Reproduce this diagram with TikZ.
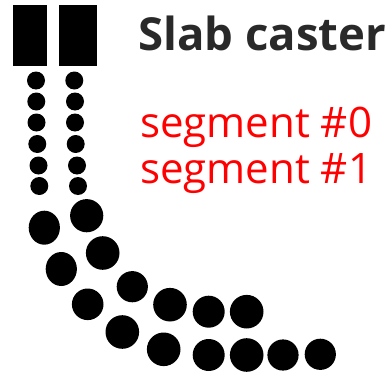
\documentclass[tikz,border=0pt]{standalone}
\usepackage{fontspec}
\setmainfont{Open Sans}
\begin{document}
\begin{tikzpicture}[x=1pt,y=-1pt,
  roll/.style={fill=black,draw=none},
  mould/.style={fill=black,draw=none},
  title/.style={anchor=base west,inner sep=0pt,text=black!84,font=\fontsize{45.5}{45.5}\selectfont\bfseries},
  seg/.style={anchor=base west,inner sep=0pt,text=red,font=\fontsize{42}{42}\selectfont}]
\useasboundingbox (0,0) rectangle (392,372);
\fill[mould] (13,5) rectangle (47,66);
\fill[mould] (59,5) rectangle (96.5,66);
\foreach \x/\y in {36/80.5,36.3/101.5,36.5/122.5,37.3/144,38.5/165.5,39.3/186,
  74.3/80.5,75/101.5,75/122.5,75.7/144,77/165.5,78/186}
  \fill[roll] (\x,\y) circle (9);
\fill[roll] (44.3,227.7) ellipse [x radius=15.6,y radius=17];
\fill[roll] (61.3,269) ellipse [x radius=15.6,y radius=17];
\foreach \x/\y/\r in {86.7/215.7/16.6,102.7/253/16.8,132.3/286.7/15.6,87.7/304.3/15.8,
  170/304.7/16.8,122.3/332/16.8,163.7/349.3/16.8,208.7/311.7/16,246.7/311.7/16.8,
  208.7/355/16,246.7/355/16.8,283/355/15.6,320.3/354.3/15.6}
  \fill[roll] (\x,\y) circle (\r);
\node[title] (t) at (138,50) {Slab caster};
\node[seg] (s0) at (140,138) {segment \#0};
\node[seg] (s1) at (140,183) {segment \#1};
\end{tikzpicture}
\end{document}
